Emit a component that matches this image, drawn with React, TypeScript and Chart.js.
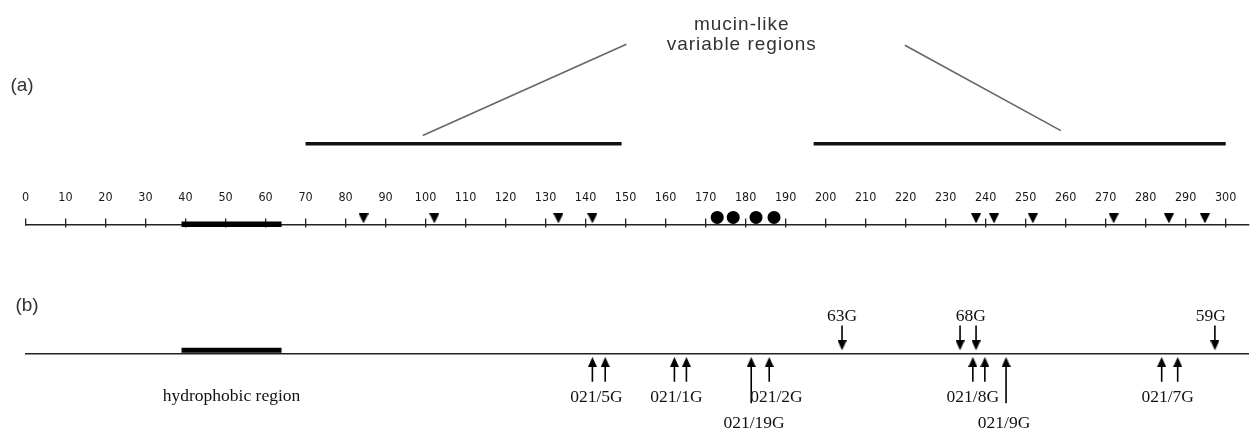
import { useEffect, useRef } from 'react';
import { Chart, registerables } from 'chart.js';

Chart.register(...registerables);

// ---------- data (sequence positions, residues) ----------
const tickValues = [0, 10, 20, 30, 40, 50, 60, 70, 80, 90, 100, 110, 120, 130, 140, 150, 160, 170, 180, 190, 200, 210, 220, 230, 240, 250, 260, 270, 280, 290, 300];
const mucinStarts = [70, 197];
const mucinEnds = [149, 300];
const calloutBottomX = [99.3, 258.8];
const calloutTopX = [150.2, 219.8];
const hydrophobicRegion = [39, 64];
const triangleSites = [84.5, 102.2, 133.2, 141.7, 237.6, 242.1, 251.8, 272.0, 285.8, 294.8];
const circleSites = [172.9, 176.9, 182.6, 187.1];
const downArrowAt = [204.1, 233.6, 237.6, 297.3];
const downLabelText = ['63G', '68G', '59G'];
const downLabelAt = [204.1, 236.3, 296.3];
const upArrowAt = [141.7, 144.9, 162.2, 165.2, 181.4, 185.9, 236.8, 239.8, 245.1, 284.0, 288.0];
const upArrowLong = [0, 0, 0, 0, 1, 0, 0, 0, 1, 0, 0];
const upLabelText = ['021/5G', '021/1G', '021/19G', '021/2G', '021/8G', '021/9G', '021/7G'];
const upLabelAt = [142.7, 162.7, 182.1, 187.7, 236.8, 244.6, 285.5];
const upLabelRow = [0, 0, 1, 0, 0, 1, 0];
const titleLines = ['mucin-like', 'variable regions'];
const titleAt = 178.9;
const X_MAX = 305.7;

// ---------- layout (vertical rows, pixels) ----------
const Y = {
  title: [30, 50],
  calloutTop: [39, 40],
  calloutBottom: [133, 128],
  mucinBar: 141.5,
  axisA: 224.5,
  triangle: 218.5,
  circle: 217.5,
  hydroA: 224.5,
  axisB: 358,
  hydroB: 354.5,
  downShaftTop: 329,
  downShaftBottom: 347,
  downHead: 349.5,
  upHead: 366.5,
  upShaftTop: 366,
  upShaftShort: 387,
  upShaftLong: 409,
  labelTop: 320.5,
  labelRow: [402, 428],
  hydroText: 401,
};

const SERIF = "'Liberation Serif', 'Times New Roman', serif";
const SANS = "'Liberation Sans', Arial, sans-serif";

function makeTriangle(w: number, h: number, down: boolean): HTMLCanvasElement {
  const c = document.createElement('canvas');
  c.width = w;
  c.height = h;
  const g = c.getContext('2d')!;
  g.fillStyle = '#000';
  g.beginPath();
  if (down) {
    g.moveTo(0, 0);
    g.lineTo(w, 0);
    g.lineTo(w / 2, h);
  } else {
    g.moveTo(w / 2, 0);
    g.lineTo(w, h);
    g.lineTo(0, h);
  }
  g.closePath();
  g.fill();
  return c;
}

function segment(x1: number, y1: number, x2: number, y2: number, color: string, width: number) {
  return {
    data: [{ x: x1, y: y1 }, { x: x2, y: y2 }],
    showLine: true,
    borderColor: color,
    borderWidth: width,
    borderCapStyle: 'butt',
    pointRadius: 0,
    clip: false,
  };
}

const textPlugin = {
  id: 'annotText',
  afterDatasetsDraw(chart: any) {
    const { ctx } = chart;
    const sx = chart.scales.x;
    const px = (v: number) => sx.getPixelForValue(v);
    ctx.save();
    ctx.fillStyle = '#333';
    ctx.textAlign = 'center';
    ctx.textBaseline = 'middle';
    ctx.font = `19px ${SANS}`;
    ctx.fillText('(a)', 22, 86);
    ctx.fillText('(b)', 27, 306);

    ctx.textBaseline = 'alphabetic';
    ctx.font = `19px ${SANS}`;
    try {
      (ctx as any).letterSpacing = '1px';
    } catch (e) {}
    titleLines.forEach((t, i) => ctx.fillText(t, px(titleAt) + 0.5, Y.title[i]));
    try {
      (ctx as any).letterSpacing = '0px';
    } catch (e) {}

    ctx.fillStyle = '#111';
    ctx.font = `17.5px ${SERIF}`;
    downLabelText.forEach((t, i) => ctx.fillText(t, px(downLabelAt[i]), Y.labelTop));
    upLabelText.forEach((t, i) => ctx.fillText(t, px(upLabelAt[i]), Y.labelRow[upLabelRow[i]]));
    ctx.fillText('hydrophobic region', px((hydrophobicRegion[0] + hydrophobicRegion[1]) / 2), Y.hydroText);
    ctx.restore();
  },
};

export default function App() {
  const ref = useRef<HTMLCanvasElement>(null);

  useEffect(() => {
    const triDown = makeTriangle(10, 10, true);
    const headDown = makeTriangle(9, 10, true);
    const headUp = makeTriangle(9, 10, false);

    const datasets: any[] = [];

    // hydrophobic bars (on top of axes)
    datasets.push(segment(hydrophobicRegion[0], Y.hydroA, hydrophobicRegion[1], Y.hydroA, '#000', 5.5));
    datasets.push(segment(hydrophobicRegion[0], Y.hydroB, hydrophobicRegion[1], Y.hydroB, '#000', 5));

    // site markers
    datasets.push({
      data: triangleSites.map((x) => ({ x, y: Y.triangle })),
      pointStyle: triDown,
      pointRadius: 5,
      clip: false,
    });
    datasets.push({
      data: circleSites.map((x) => ({ x, y: Y.circle })),
      pointStyle: 'circle',
      pointRadius: 6.5,
      backgroundColor: '#000',
      borderColor: '#000',
      borderWidth: 0,
      clip: false,
    });

    // mucin-like regions and callouts
    mucinStarts.forEach((s, i) => datasets.push(segment(s, Y.mucinBar, mucinEnds[i], Y.mucinBar, '#111', 3.5)));
    calloutBottomX.forEach((b, i) =>
      datasets.push(segment(b, Y.calloutBottom[i], calloutTopX[i], Y.calloutTop[i], '#666', 1.6))
    );

    // arrows (b)
    downArrowAt.forEach((x) => datasets.push(segment(x, Y.downShaftTop, x, Y.downShaftBottom, '#000', 1.6)));
    datasets.push({
      data: downArrowAt.map((x) => ({ x, y: Y.downHead })),
      pointStyle: headDown,
      pointRadius: 5,
      clip: false,
    });
    upArrowAt.forEach((x, i) =>
      datasets.push(segment(x, Y.upShaftTop, x, upArrowLong[i] ? Y.upShaftLong : Y.upShaftShort, '#000', 1.6))
    );
    datasets.push({
      data: upArrowAt.map((x) => ({ x, y: Y.upHead })),
      pointStyle: headUp,
      pointRadius: 5,
      clip: false,
    });

    const tickSetter = (s: any) => {
      s.ticks = tickValues.map((v) => ({ value: v }));
    };

    const chart = new Chart(ref.current!, {
      type: 'scatter',
      data: { datasets },
      options: {
        responsive: false,
        animation: false,
        events: [],
        layout: { padding: { left: 25.5, right: 5, top: 0, bottom: 0 } },
        plugins: { legend: { display: false }, tooltip: { enabled: false } },
        scales: {
          y: { type: 'linear', min: 0, max: 430, reverse: true, display: false },
          x: {
            type: 'linear',
            min: 0,
            max: X_MAX,
            position: { y: Y.axisA },
            afterBuildTicks: tickSetter,
            grid: { drawOnChartArea: false, drawTicks: true, tickLength: -7, color: '#222', lineWidth: 1.3 },
            border: { display: true, color: '#222', width: 1.4 },
            ticks: {
              autoSkip: false,
              maxRotation: 0,
              minRotation: 0,
              padding: -26.7,
              color: '#1a1a1a',
              font: { family: "'DejaVu Sans Condensed', 'DejaVu Sans', sans-serif", size: 12.5 },
              callback: (v: any) => String(v),
            },
          },
          xd: {
            type: 'linear',
            axis: 'x',
            min: 0,
            max: X_MAX,
            position: { y: Y.axisA },
            afterBuildTicks: tickSetter,
            grid: {
              drawOnChartArea: false,
              drawTicks: true,
              tickLength: 3.5,
              lineWidth: 1.3,
              color: (c: any) => (c.tick && c.tick.value === 0 ? 'rgba(0,0,0,0)' : '#222'),
            },
            border: { display: false },
            ticks: { display: false },
          },
          xb: {
            type: 'linear',
            axis: 'x',
            min: 0,
            max: X_MAX,
            position: { y: Y.axisB },
            grid: { drawOnChartArea: false, drawTicks: false },
            border: { display: true, color: '#222', width: 1.5 },
            ticks: { display: false },
          },
        } as any,
      },
      plugins: [textPlugin],
    } as any);

    return () => chart.destroy();
  }, []);

  return (
    <div style={{ position: 'absolute', left: 0, top: 0, width: 1255, height: 430, background: '#fff' }}>
      <canvas ref={ref} width={1255} height={430} style={{ display: 'block' }} />
    </div>
  );
}
